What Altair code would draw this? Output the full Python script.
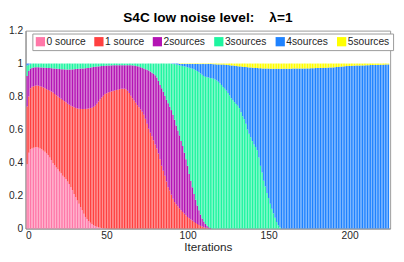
import altair as alt
import pandas as pd

# ---- data (fractions per iteration, stacked) ----
series_names = ["0 source", "1 source", "2sources", "3sources", "4sources", "5sources"]
series_colors = ["#FF78A8", "#FF4040", "#B414B4", "#1EF5A0", "#1E82FF", "#FFFF00"]
x_ticks = [0, 50, 100, 150, 200]
y_ticks = [0, 0.2, 0.4, 0.6, 0.8, 1.0, 1.2]

# upper edge of "0 source" (iterations 1..224)
top_0source = [
    .39, .46, .48, .485, .49, .492, .495, .49, .485, .48,
    .472, .465, .455, .445, .43, .415, .395, .385, .37, .36,
    .345, .335, .32, .31, .30, .285, .27, .25, .232, .21,
    .19, .17, .15, .13, .11, .09, .07, .057, .045, .035,
    .027, .02, .015, .011, .008, .005, .003, .002, .001, .001,
    0, 0, 0, 0, 0, 0, 0, 0, 0, 0,
    0, 0, 0, 0, 0, 0, 0, 0, 0, 0,
    0, 0, 0, 0, 0, 0, 0, 0, 0, 0,
    0, 0, 0, 0, 0, 0, 0, 0, 0, 0,
    0, 0, 0, 0, 0, 0, 0, 0, 0, 0,
    0, 0, 0, 0, 0, 0, 0, 0, 0, 0,
    0, 0, 0, 0, 0, 0, 0, 0, 0, 0,
    0, 0, 0, 0, 0, 0, 0, 0, 0, 0,
    0, 0, 0, 0, 0, 0, 0, 0, 0, 0,
    0, 0, 0, 0, 0, 0, 0, 0, 0, 0,
    0, 0, 0, 0, 0, 0, 0, 0, 0, 0,
    0, 0, 0, 0, 0, 0, 0, 0, 0, 0,
    0, 0, 0, 0, 0, 0, 0, 0, 0, 0,
    0, 0, 0, 0, 0, 0, 0, 0, 0, 0,
    0, 0, 0, 0, 0, 0, 0, 0, 0, 0,
    0, 0, 0, 0, 0, 0, 0, 0, 0, 0,
    0, 0, 0, 0, 0, 0, 0, 0, 0, 0,
    0, 0, 0, 0,
]

# upper edge of "1 source"
top_1source = [
    .74, .80, .85, .86, .863, .866, .867, .866, .863, .86,
    .855, .85, .845, .84, .835, .83, .824, .816, .808, .80,
    .793, .787, .78, .772, .765, .757, .75, .745, .74, .735,
    .731, .728, .726, .725, .724, .724, .725, .726, .727, .73,
    .733, .738, .745, .757, .77, .782, .795, .805, .815, .82,
    .825, .828, .831, .834, .837, .84, .842, .845, .847, .848,
    .848, .845, .835, .822, .805, .79, .776, .762, .748, .736,
    .722, .708, .69, .665, .635, .605, .58, .56, .535, .51,
    .485, .455, .42, .38, .35, .32, .285, .25, .23, .205,
    .18, .16, .147, .135, .122, .11, .1, .09, .08, .07,
    .062, .055, .048, .04, .034, .028, .022, .016, .012, .008,
    .005, .003, .001,
    0, 0, 0, 0, 0, 0, 0, 0, 0, 0,
    0, 0, 0, 0, 0, 0, 0, 0, 0, 0,
    0, 0, 0, 0, 0, 0, 0, 0, 0, 0,
    0, 0, 0, 0, 0, 0, 0, 0, 0, 0,
    0, 0, 0, 0, 0, 0, 0, 0, 0, 0,
    0, 0, 0, 0, 0, 0, 0, 0, 0, 0,
    0, 0, 0, 0, 0, 0, 0, 0, 0, 0,
    0, 0, 0, 0, 0, 0, 0, 0, 0, 0,
    0, 0, 0, 0, 0, 0, 0, 0, 0, 0,
    0, 0, 0, 0, 0, 0, 0, 0, 0, 0,
    0, 0, 0, 0, 0, 0, 0, 0, 0, 0,
    0,
]

# upper edge of "2sources"
top_2sources = [
    .925, .955, .968, .973, .976, .978, .978, .978, .977, .976,
    .975, .975, .974, .974, .973, .972, .971, .97, .969, .968,
    .967, .966, .965, .965, .964, .964, .964, .964, .965, .966,
    .967, .968, .969, .97, .97, .971, .972, .973, .974, .976,
    .978, .98, .981, .982, .983, .984, .985, .986, .987, .988,
    .988, .989, .989, .99, .99, .99, .99, .99, .99, .99,
    .99, .99, .99, .99, .99, .989, .988, .986, .984, .982,
    .978, .974, .97, .966, .962, .958, .952, .945, .938, .93,
    .915, .895, .87, .85, .83, .805, .78, .76, .738, .718,
    .69, .66, .625, .595, .565, .53, .5, .46, .42, .38,
    .33, .29, .25, .21, .175, .14, .11, .085, .06, .042,
    .028, .017, .008, .003,
    0, 0, 0, 0, 0, 0, 0, 0, 0, 0,
    0, 0, 0, 0, 0, 0, 0, 0, 0, 0,
    0, 0, 0, 0, 0, 0, 0, 0, 0, 0,
    0, 0, 0, 0, 0, 0, 0, 0, 0, 0,
    0, 0, 0, 0, 0, 0, 0, 0, 0, 0,
    0, 0, 0, 0, 0, 0, 0, 0, 0, 0,
    0, 0, 0, 0, 0, 0, 0, 0, 0, 0,
    0, 0, 0, 0, 0, 0, 0, 0, 0, 0,
    0, 0, 0, 0, 0, 0, 0, 0, 0, 0,
    0, 0, 0, 0, 0, 0, 0, 0, 0, 0,
    0, 0, 0, 0, 0, 0, 0, 0, 0, 0,
]

# upper edge of "3sources"
top_3sources = [
    .988, .993, .997,
    1, 1, 1, 1, 1, 1, 1, 1, 1, 1,
    1, 1, 1, 1, 1, 1, 1, 1, 1, 1,
    1, 1, 1, 1, 1, 1, 1, 1, 1, 1,
    1, 1, 1, 1, 1, 1, 1, 1, 1, 1,
    1, 1, 1, 1, 1, 1, 1, 1, 1, 1,
    1, 1, 1, 1, 1, 1, 1, 1, 1, 1,
    1, 1, 1, 1, 1, 1, 1, 1, 1, 1,
    1, 1, 1, 1, 1, 1, 1, 1, 1, 1,
    1, 1, 1, 1, 1, 1,
    .999, .998, .997, .995, .993, .99, .987, .985, .983, .981, .978,
    .975, .972, .969, .965, .96, .955, .948, .94, .932, .925,
    .92, .917, .915, .913, .911, .908, .903, .897, .89, .88,
    .87, .858, .847, .836, .822, .806, .79, .778, .766, .755,
    .745, .73, .705, .68, .662, .635, .6, .575, .553, .53,
    .51, .495, .475, .43, .38, .34, .29, .255, .215, .185,
    .15, .12, .092, .065, .04, .02, .008,
    0, 0, 0, 0, 0, 0, 0, 0, 0, 0,
    0, 0, 0, 0, 0, 0, 0, 0, 0, 0,
    0, 0, 0, 0, 0, 0, 0, 0, 0, 0,
    0, 0, 0, 0, 0, 0, 0, 0, 0, 0,
    0, 0, 0, 0, 0, 0, 0, 0, 0, 0,
    0, 0, 0, 0, 0, 0, 0, 0, 0, 0,
    0, 0, 0, 0, 0, 0, 0,
]

# share of "5sources" (thin band at the top)
share_5sources = [
    0, 0, 0, 0, 0, 0, 0, 0, 0, 0,
    0, 0, 0, 0, 0, 0, 0, 0, 0, 0,
    0, 0, 0, 0, 0, 0, 0, 0, 0, 0,
    0, 0, 0, 0, 0, 0, 0, 0, 0, 0,
    0, 0, 0, 0, 0, 0, 0, 0, 0, 0,
    0, 0, 0, 0, 0, 0, 0, 0, 0, 0,
    0, 0, 0, 0, 0, 0, 0, 0, 0, 0,
    0, 0, 0, 0, 0, 0, 0, 0, 0, 0,
    0, 0, 0, 0, 0, 0, 0, 0, 0, 0,
    0, 0, 0, 0,
    .002, .002, .002, .002, .002, .002, .002, .002, .002, .002, .002,
    .003, .003, .003, .003, .003, .003, .003, .003, .003, .003,
    .004, .004, .005, .005, .005, .006, .006, .007, .008, .009,
    .010, .011, .012, .013, .015, .016, .017, .018,
    .019, .02, .021, .022, .023, .024, .025,
    .026, .027, .027, .028, .028, .029, .029, .03, .03, .03,
    .031, .031, .032, .032, .032, .032, .032, .032, .031, .031,
    .031, .031, .031, .031, .03, .03, .03, .03, .03, .03,
    .03, .029, .029, .029, .029,
    .028, .028, .028, .027, .027, .027, .026, .026, .026, .025,
    .025, .024, .024, .023, .023,
    .022, .021, .02, .019, .018, .017, .016, .015, .015, .014,
    .014, .013, .013, .012, .012,
    .012, .011, .011, .011, .010, .010, .010, .009, .009, .009,
    .008, .008, .008, .007, .007, .007, .006, .006, .005,
]

n_iter = len(top_0source)
for lst in (top_1source, top_2sources, top_3sources, share_5sources):
    assert len(lst) == n_iter, len(lst)

rows = []
for k in range(n_iter):
    it = k + 1
    edges = [0.0, top_0source[k], top_1source[k], top_2sources[k],
             top_3sources[k], 1.0 - share_5sources[k], 1.0]
    for s, name in enumerate(series_names):
        lo, hi = edges[s], edges[s + 1]
        if hi - lo > 1e-9:
            rows.append({"x0": it - 0.4, "x1": it + 0.4, "y0": lo, "y1": hi,
                         "series": name, "ord": s})
df = pd.DataFrame(rows)

FONT = "Liberation Sans"
TXT = "#262626"

chart = alt.Chart(df).mark_bar(strokeWidth=0).encode(
    x=alt.X("x0:Q",
            scale=alt.Scale(domain=[0, 225], nice=False, zero=False),
            axis=alt.Axis(values=x_ticks, title="Iterations", grid=False, ticks=False,
                          labelPadding=2, titlePadding=1, labelFontSize=10.5,
                          titleFontSize=12, titleFontWeight="normal",
                          labelColor=TXT, titleColor=TXT, domainColor="#8c8c8c",
                          labelFont=FONT, titleFont=FONT)),
    x2="x1:Q",
    y=alt.Y("y0:Q",
            scale=alt.Scale(domain=[0, 1.2], nice=False),
            axis=alt.Axis(values=y_ticks, format=".1~f", title=None, grid=False, ticks=False,
                          labelPadding=3, labelFontSize=10.5, labelColor=TXT,
                          domainColor="#8c8c8c", labelFont=FONT)),
    y2="y1:Q",
    color=alt.Color("series:N",
                    scale=alt.Scale(domain=series_names, range=series_colors),
                    legend=alt.Legend(orient="none", legendX=7, legendY=3,
                                      direction="horizontal", columns=6, title=None,
                                      symbolType="square", symbolSize=90,
                                      symbolStrokeWidth=0, labelFontSize=10.5,
                                      labelFont=FONT, labelColor=TXT, labelOffset=1,
                                      columnPadding=8, padding=3,
                                      strokeColor="#9a9a9a", fillColor="white")),
    order=alt.Order("ord:Q"),
).properties(
    width=374,
    height=203,
    title=alt.TitleParams("S4C low noise level:\u00a0\u00a0\u00a0\u00a0λ=1", fontSize=14,
                          fontWeight="bold", font=FONT, color="black", offset=1),
    padding={"left": 0, "top": 0, "right": 2, "bottom": 0},
).configure_view(stroke="#9a9a9a", strokeWidth=1)

chart.save("out.html", embed_options={"renderer": "svg", "actions": False})
